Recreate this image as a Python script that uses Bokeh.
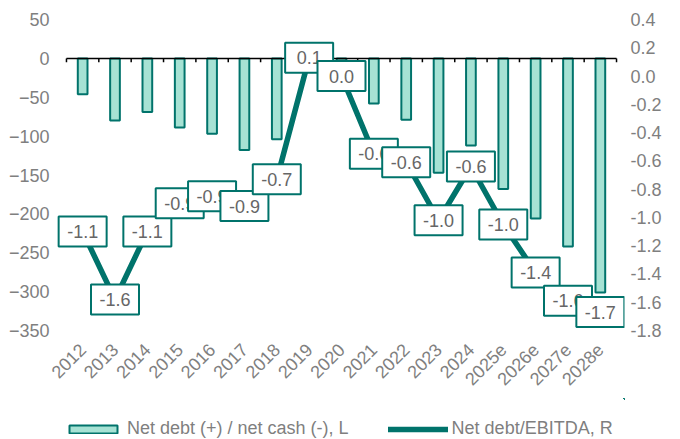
import math
from bokeh.plotting import figure
from bokeh.layouts import column
from bokeh.models import (Range1d, LinearAxis, FixedTicker, NumeralTickFormatter,
                          ColumnDataSource, Legend, LegendItem)
from bokeh.core.properties import value
from bokeh.embed import file_html
from bokeh.resources import INLINE

years = ["2012", "2013", "2014", "2015", "2016", "2017", "2018", "2019", "2020",
         "2021", "2022", "2023", "2024", "2025e", "2026e", "2027e", "2028e"]
net_debt = [-46, -80, -69, -89, -97, -118, -104, 3, -5,
            -58, -79, -147, -112, -168, -206, -242, -301]
nd_ebitda = [-1.1, -1.58, -1.1, -0.9, -0.85, -0.92, -0.73, 0.13, 0.0,
             -0.55, -0.61, -1.02, -0.64, -1.05, -1.39, -1.59, -1.67]
ratio_labels = ["-1.1", "-1.6", "-1.1", "-0.9", "-0.9", "-0.9", "-0.7", "0.1", "0.0",
                "-0.6", "-0.6", "-1.0", "-0.6", "-1.0", "-1.4", "-1.6", "-1.7"]
left_ticks = [-350, -300, -250, -200, -150, -100, -50, 0, 50]
right_ticks = [-1.8, -1.6, -1.4, -1.2, -1.0, -0.8, -0.6, -0.4, -0.2, 0.0, 0.2, 0.4]
series_names = ["Net debt (+) / net cash (-), L", "Net debt/EBITDA, R"]

TEAL = "#00736b"
MINT = "#a6e2d4"
GREY = "#7f7f7f"
FONT = "Liberation Sans"
FS = "18px"

W = 664
BORDER_L, BORDER_R = 56, 38          # frame edges at 56 .. 626 px
CAT_L, CAT_R = 66, 618               # category area inside the frame
n = len(years)
unit = (CAT_R - CAT_L) / n
x_start = -0.5 - (CAT_L - BORDER_L) / unit
x_end = n - 0.5 + ((W - BORDER_R) - CAT_R) / unit

xs = list(range(n))
src = ColumnDataSource(dict(x=xs, nd=net_debt, r=nd_ebitda, lab=ratio_labels))

p = figure(width=W, height=398, output_backend="svg", toolbar_location=None,
           x_range=Range1d(x_start, x_end), y_range=Range1d(-350, 50),
           min_border_left=BORDER_L, min_border_right=BORDER_R,
           min_border_top=19, min_border_bottom=68)
p.extra_y_ranges = {"r": Range1d(-1.8, 0.4)}
p.outline_line_color = None
p.grid.visible = False
p.background_fill_color = "white"


def style_axis(ax, standoff):
    ax.axis_line_color = None
    ax.major_tick_line_color = None
    ax.minor_tick_line_color = None
    ax.major_tick_in = 0
    ax.major_tick_out = 0
    ax.minor_tick_in = 0
    ax.minor_tick_out = 0
    ax.major_label_standoff = standoff
    ax.major_label_text_font = FONT
    ax.major_label_text_font_size = FS
    ax.major_label_text_color = GREY


xa = p.xaxis[0]
xa.ticker = FixedTicker(ticks=xs)
xa.major_label_overrides = {i: y for i, y in enumerate(years)}
xa.major_label_orientation = math.pi / 4
style_axis(xa, 16)

ya = p.yaxis[0]
ya.ticker = FixedTicker(ticks=left_ticks)
style_axis(ya, 7)

ra = LinearAxis(y_range_name="r", ticker=FixedTicker(ticks=right_ticks),
                formatter=NumeralTickFormatter(format="0.0"))
style_axis(ra, 6)
p.add_layout(ra, "right")

p.vbar(x="x", top="nd", bottom=0, width=0.3, source=src,
       fill_color=MINT, line_color=TEAL, line_width=2)

# category axis line at zero with downward ticks at category boundaries
bounds = [i - 0.5 for i in range(n + 1)]
p.segment(x0=[bounds[0]], x1=[bounds[-1]], y0=[0], y1=[0], line_color="black", line_width=1.5)
p.segment(x0=bounds, x1=bounds, y0=[0] * len(bounds), y1=[-5] * len(bounds),
          line_color="black", line_width=1.5)

p.line(x="x", y="r", source=src, y_range_name="r", line_color=TEAL, line_width=5.5)

# data labels: boxes + text, drawn one by one so later ones sit on top
for i in xs:
    s = ColumnDataSource(dict(x=[xs[i]], y=[nd_ebitda[i]], t=[ratio_labels[i]]))
    p.rect(x="x", y="y", width=48, height=30, width_units="screen", height_units="screen",
           source=s, y_range_name="r", fill_color="white", line_color=TEAL, line_width=2)
    p.text(x="x", y="y", text="t", source=s, y_range_name="r",
           text_align="center", text_baseline="middle",
           text_font=value(FONT), text_font_size=FS, text_color="#666666")

# legend strip below the chart (its glyphs use the same data, kept far outside its ranges)
lf = figure(width=W, height=41, output_backend="svg", toolbar_location=None,
            x_axis_type=None, y_axis_type=None,
            x_range=Range1d(-1001, -1000), y_range=Range1d(-1001, -1000),
            min_border_left=BORDER_L, min_border_right=BORDER_R,
            min_border_top=0, min_border_bottom=0)
lf.outline_line_color = None
lf.grid.visible = False
lb = lf.vbar(x="x", top="nd", width=0.3, source=src,
             fill_color=MINT, line_color=TEAL, line_width=2)
ll = lf.line(x="x", y="r", source=src, line_color=TEAL, line_width=5.5, line_cap="round")
legend = Legend(items=[LegendItem(label=series_names[0], renderers=[lb]),
                       LegendItem(label=series_names[1], renderers=[ll])],
                orientation="horizontal", location=(65 - 2 - BORDER_L, 0),
                glyph_width=60, glyph_height=10, label_standoff=4, spacing=39,
                label_text_font=FONT, label_text_font_size=FS, label_text_color=GREY,
                padding=2, margin=0, border_line_color=None, background_fill_alpha=0)
lf.add_layout(legend, "center")

open("out.html", "w").write(file_html(column(p, lf), INLINE))
